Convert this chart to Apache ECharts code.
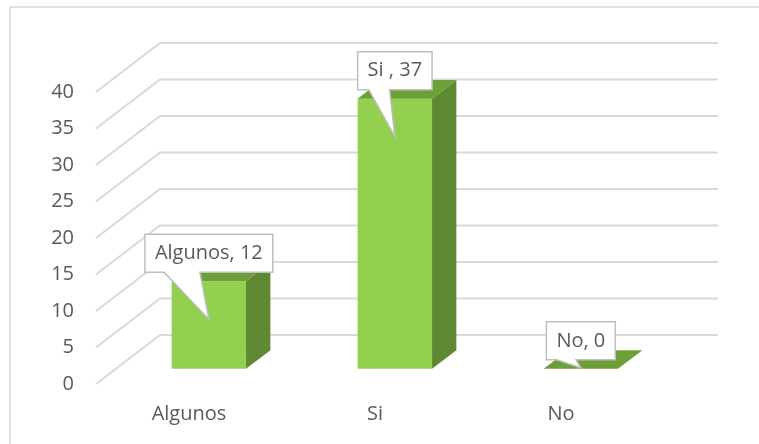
<!DOCTYPE html>
<html>
<head>
<meta charset="utf-8">
<script src="https://cdn.jsdelivr.net/npm/echarts@6/dist/echarts.min.js"></script>
<style>
  html, body { margin: 0; padding: 0; background: #ffffff; }
  #chart { width: 759px; height: 444px; }
</style>
</head>
<body>
<div id="chart"></div>
<script>
// Survey answers
const categories = ['Algunos', 'Si ', 'No'];
const responses = [12, 37, 0];
const yTicks = [0, 5, 10, 15, 20, 25, 30, 35, 40];

const FONT = '"Open Sans", "Noto Sans", sans-serif';
const FONT_SIZE = 20;
const TEXT_COLOR = '#595959';
const GRID_COLOR = '#d9d9d9';

// Oblique projection: pixel shift for the full floor depth (front -> back wall)
const DEPTH_X = 64;
const DEPTH_Y = -49;
// Columns occupy the middle of the floor depth
const BAR_FRONT = 0.31;
const BAR_BACK = 0.69;
const BAR_WIDTH = 0.4; // share of the category band

const FRONT_COLOR = '#92d050';
const SIDE_COLOR = '#5e8831';
const TOP_COLOR = '#6d9f39';

const measureCtx = document.createElement('canvas').getContext('2d');
function textWidth(str) {
  measureCtx.font = FONT_SIZE + 'px ' + FONT;
  return measureCtx.measureText(str).width;
}

// Back wall and side wall gridlines for each tick
function renderWall(params, api) {
  const cs = params.coordSys;
  const y = api.coord([0, api.value(1)])[1];
  const x0 = cs.x;
  const x1 = cs.x + cs.width;
  return {
    type: 'polyline',
    shape: {
      points: [
        [x0, y],
        [x0 + DEPTH_X, y + DEPTH_Y],
        [x1 + DEPTH_X, y + DEPTH_Y]
      ]
    },
    style: { stroke: GRID_COLOR, lineWidth: 2, fill: null },
    silent: true
  };
}

function barGeometry(api) {
  const idx = api.value(0);
  const val = api.value(1);
  const base = api.coord([idx, 0]);
  const top = api.coord([idx, val]);
  const w = api.size([1, 0])[0] * BAR_WIDTH;
  const fx = BAR_FRONT * DEPTH_X, fy = BAR_FRONT * DEPTH_Y;
  const dx = (BAR_BACK - BAR_FRONT) * DEPTH_X, dy = (BAR_BACK - BAR_FRONT) * DEPTH_Y;
  const cx = base[0] + fx;
  return {
    cx: cx,
    xl: cx - w / 2,
    xr: cx + w / 2,
    yb: base[1] + fy,
    yt: top[1] + fy,
    dx: dx,
    dy: dy
  };
}

// 3D-looking column: front face, right side and top
function renderBar(params, api) {
  const g = barGeometry(api);
  const children = [];
  if (g.yb - g.yt > 0.5) {
    children.push({
      type: 'polygon',
      shape: { points: [[g.xl, g.yb], [g.xr, g.yb], [g.xr, g.yt], [g.xl, g.yt]] },
      style: { fill: FRONT_COLOR }
    });
    children.push({
      type: 'polygon',
      shape: { points: [[g.xr, g.yb], [g.xr + g.dx, g.yb + g.dy], [g.xr + g.dx, g.yt + g.dy], [g.xr, g.yt]] },
      style: { fill: SIDE_COLOR }
    });
  }
  children.push({
    type: 'polygon',
    shape: { points: [[g.xl, g.yt], [g.xr, g.yt], [g.xr + g.dx, g.yt + g.dy], [g.xl + g.dx, g.yt + g.dy]] },
    style: { fill: TOP_COLOR }
  });
  return { type: 'group', children: children };
}

// Speech-bubble data labels: "category, value"
function renderCallout(params, api) {
  const g = barGeometry(api);
  const idx = api.value(0);
  const label = categories[idx] + ', ' + api.value(1);
  const w = textWidth(label) + 20;
  const h = 38;
  const L = g.cx - w / 2, R = g.cx + w / 2;
  const B = g.yt - 9, T = B - h;
  const baseL = L + 0.15 * w, baseR = L + 0.43 * w;
  const tipX = g.cx;
  const tipY = Math.min(B + 47, g.yb - 1);
  return {
    type: 'group',
    children: [
      {
        type: 'polygon',
        shape: {
          points: [[L, T], [R, T], [R, B], [baseR, B], [tipX, tipY], [baseL, B], [L, B]]
        },
        style: { fill: '#ffffff', stroke: '#bfbfbf', lineWidth: 1.5 }
      },
      {
        type: 'text',
        x: g.cx,
        y: (T + B) / 2,
        style: {
          text: label,
          fill: TEXT_COLOR,
          font: FONT_SIZE + 'px ' + FONT,
          align: 'center',
          verticalAlign: 'middle'
        }
      }
    ]
  };
}

const chart = echarts.init(document.getElementById('chart'), null, { renderer: 'canvas' });

const barData = responses.map((v, i) => [i, v]);

chart.setOption({
  animation: false,
  backgroundColor: '#ffffff',
  graphic: [
    {
      type: 'rect',
      shape: { x: 10, y: 7, width: 800, height: 500 },
      style: { fill: null, stroke: GRID_COLOR, lineWidth: 1.5 },
      silent: true,
      z: -10
    }
  ],
  grid: { left: 96, right: 105, top: 92, bottom: 60, containLabel: false },
  xAxis: {
    type: 'category',
    data: categories,
    axisLine: { show: false },
    axisTick: { show: false },
    splitLine: { show: false },
    axisLabel: {
      color: TEXT_COLOR,
      fontSize: FONT_SIZE,
      fontFamily: FONT,
      margin: 20,
      formatter: (v) => v.trim()
    }
  },
  yAxis: {
    type: 'value',
    min: yTicks[0],
    max: yTicks[yTicks.length - 1],
    interval: yTicks[1] - yTicks[0],
    axisLine: { show: false },
    axisTick: { show: false },
    splitLine: { show: false },
    axisLabel: {
      color: TEXT_COLOR,
      fontSize: FONT_SIZE,
      fontFamily: FONT,
      margin: 22
    }
  },
  series: [
    {
      type: 'custom',
      name: 'walls',
      renderItem: renderWall,
      data: yTicks.map((v) => [0, v]),
      encode: { x: 0, y: 1 },
      silent: true,
      z: 1
    },
    {
      type: 'custom',
      name: 'columns',
      renderItem: renderBar,
      data: barData,
      encode: { x: 0, y: 1 },
      z: 2
    },
    {
      type: 'custom',
      name: 'labels',
      renderItem: renderCallout,
      data: barData,
      encode: { x: 0, y: 1 },
      z: 3
    }
  ]
});
</script>
</body>
</html>
